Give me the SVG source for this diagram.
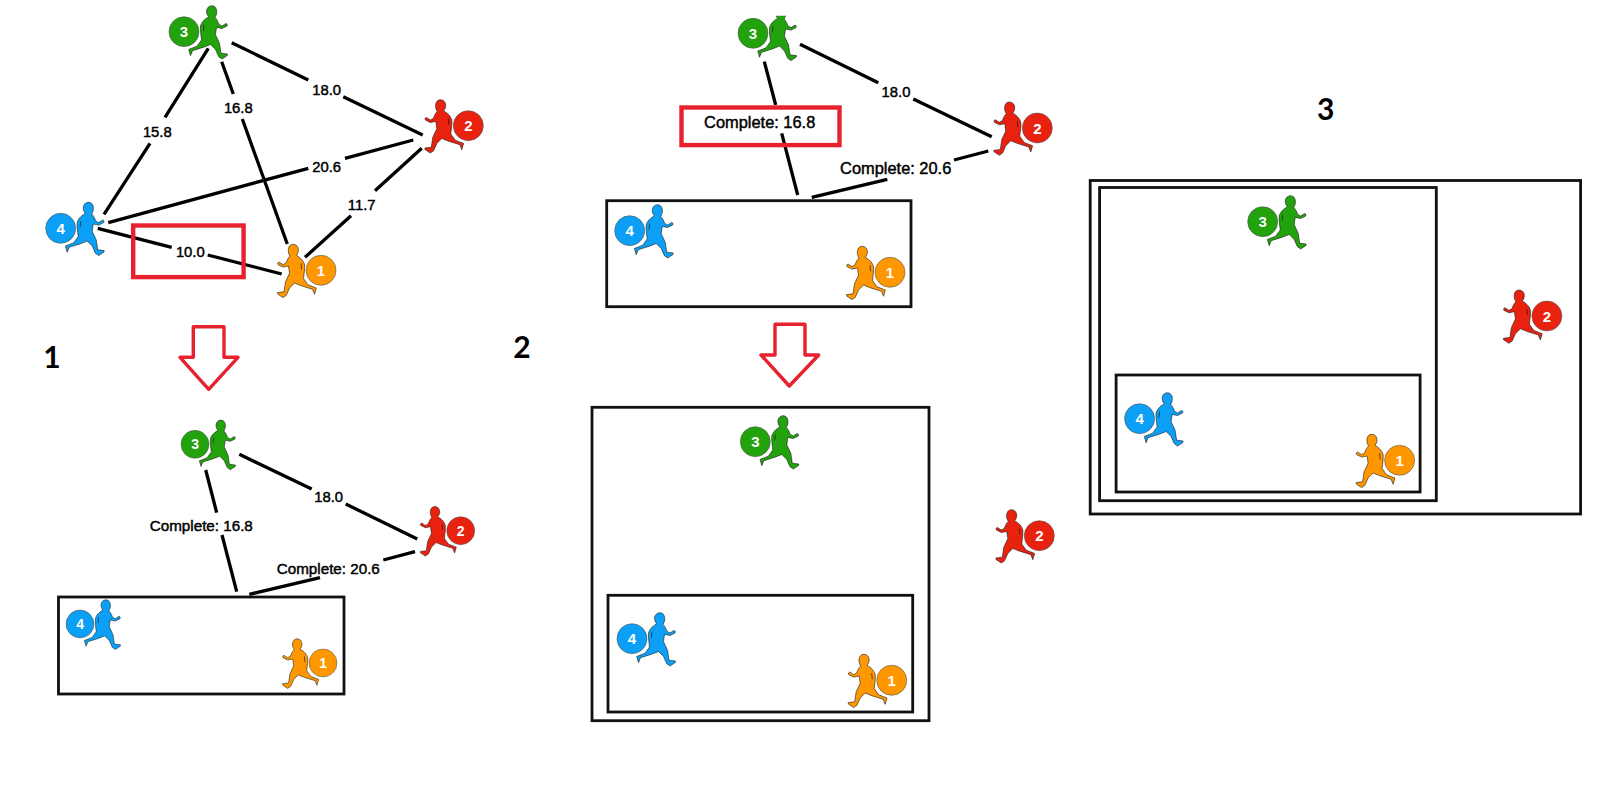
<svg xmlns="http://www.w3.org/2000/svg" xmlns:xlink="http://www.w3.org/1999/xlink" width="1598" height="802" viewBox="0 0 1598 802">
<style>
.bg{fill:#fff}
.edge{stroke:#000;stroke-width:3.3;fill:none}
.box{fill:none;stroke:#111;stroke-width:2.8}
.hl{fill:none;stroke:#e8212e;stroke-width:4.4}
.arrow{fill:#fff;stroke:#e8212e;stroke-width:3.4;stroke-linejoin:round}
.lbl{font-family:"Liberation Sans",Arial,sans-serif;fill:#000;stroke:#000;stroke-width:.45;text-anchor:middle;dominant-baseline:central;font-size:14.8px}
.c{font-size:15.2px}
.cb{font-size:16.4px}
.step{font-family:Lato,"Liberation Sans",sans-serif;font-weight:700;font-size:30px;fill:#000;text-anchor:middle}
.num{font-family:"Liberation Sans",Arial,sans-serif;font-weight:700;font-size:15px;fill:#fff;text-anchor:middle;dominant-baseline:central}
.run{stroke:#1a1a1a;stroke-width:.6;stroke-linejoin:round}
.mark{fill:none;stroke:#1a1a1a;stroke-width:.7}
.disc{stroke:#555;stroke-width:.6}
.n1 .run,.n1 .disc{fill:#ff9800}
.n2 .run,.n2 .disc{fill:#e9220f}
.n3 .run,.n3 .disc{fill:#22a20c}
.n4 .run,.n4 .disc{fill:#0ba0f5}
</style>
<defs>
<g id="runner">
<path d="M24.7,-15 C21.5,-18 21.5,-25.5 27.7,-26 C33.5,-26 33.8,-18 31,-14.3 C33,-12.5 34,-10 35,-7.3 L38,-5.7 L42,-8.3 L43.3,-7.3 L43,-5.7 L38,-3.2 L32.5,-4.3 L31.5,3 L35.5,11.5 L37,21.5 L43.5,22.3 L43.3,23.8 L38,27.3 L34.7,25 L31.5,17.7 L26.5,12.8 L19.7,15.5 L8.5,19 L6.5,24 L4.7,17.7 L13,14.5 L17.5,8.3 C17,3 16,-2 16.5,-5.7 C17.5,-9 19.5,-12 24.7,-15 Z"/>
<path class="mark" d="M20,-7 L19.4,-1"/>
</g>
<clipPath id="topclip"><rect x="700" y="15.7" width="120" height="60"/></clipPath>
</defs>
<rect class="bg" width="1598" height="802"/>
<g id="connectors">
<path class="edge" d="M208.3,48.3L165,117.3M150,143.3L104,214.3M221.7,61.7L233.3,94M242.3,119L287.3,244M231.7,42.7L308.3,80M343.3,96.7L422.7,135M108.3,222.7L308.3,168.3M345,158.3L413.3,140M305,257.3L351,215.7M375,190.7L421.7,148.3M97.7,228.3L171.7,247.3M207.7,255L281.7,274"/>
<path class="edge" d="M205.7,470L216.7,512.7M222,535L236.7,591.7M239.3,454.3L311.7,489M345.7,504L417.3,539M249.3,594.3L320,577.7M383.3,560L415,551.7"/>
<path class="edge" d="M764.3,61.7L775.7,105M781.7,133.3L797.7,195M800,44.3L878.3,82.7M913.3,99L991.7,136.7M811.7,197.3L887.3,179.3M954,160L988.3,151"/>
</g>
<g id="boxes">
<rect class="box" x="58.5" y="597" width="285.5" height="97"/>
<rect class="box" x="606.7" y="200.7" width="304.3" height="106"/>
<rect class="box" x="592" y="407.3" width="337" height="313.4"/>
<rect class="box" x="608" y="595.3" width="304.7" height="116.7"/>
<rect class="box" x="1090.2" y="180.5" width="490.4" height="333.5"/>
<rect class="box" x="1099.6" y="187.5" width="336.7" height="313.2"/>
<rect class="box" x="1116.1" y="375" width="304" height="117"/>
</g>
<g id="highlights">
<rect class="hl" x="133.2" y="225.5" width="110.4" height="51.6"/>
<rect class="hl" x="681.5" y="107.5" width="158" height="37.6"/>
<path class="arrow" d="M193.3,326.7H224V357.3H238L208.7,389.3L180,357.3H193.3Z"/>
<path class="arrow" d="M775,324.3H805V355H818.7L789.3,386L761,355H775Z"/>
</g>
<g id="edge-labels">
<text class="lbl" x="157.3" y="132.3">15.8</text>
<text class="lbl" x="238.3" y="107.7">16.8</text>
<text class="lbl" x="326.7" y="90">18.0</text>
<text class="lbl" x="326.7" y="166.7">20.6</text>
<text class="lbl" x="361.7" y="205">11.7</text>
<text class="lbl" x="190.3" y="252.3">10.0</text>
<text class="lbl c" x="201.3" y="525">Complete: 16.8</text>
<text class="lbl" x="328.7" y="497.3">18.0</text>
<text class="lbl c" x="328.3" y="568">Complete: 20.6</text>
<text class="lbl cb" x="759.7" y="121.7">Complete: 16.8</text>
<text class="lbl" x="896" y="91.7">18.0</text>
<text class="lbl cb" x="895.7" y="168.3">Complete: 20.6</text>
</g>
<g id="step-labels">
<text class="step" x="52" y="367.7">1</text>
<text class="step" x="522" y="358">2</text>
<text class="step" x="1325.6" y="120">3</text>
</g>
<g id="a3" class="n3" transform="translate(184,31.7)"><use class="run" href="#runner"/><circle class="disc" r="15"/><text class="num">3</text></g>
<g id="a4" class="n4" transform="translate(60.7,228.3)"><use class="run" href="#runner"/><circle class="disc" r="15"/><text class="num">4</text></g>
<g id="a1" class="n1" transform="translate(321,270.3)"><use class="run" href="#runner" transform="scale(-1,1)"/><circle class="disc" r="15"/><text class="num">1</text></g>
<g id="a2" class="n2" transform="translate(468.3,125.7)"><use class="run" href="#runner" transform="scale(-1,1)"/><circle class="disc" r="15"/><text class="num">2</text></g>
<g id="b3" class="n3" transform="translate(195,444.3) scale(.93)"><use class="run" href="#runner"/><circle class="disc" r="15"/><text class="num">3</text></g>
<g id="b4" class="n4" transform="translate(80,624) scale(.93)"><use class="run" href="#runner"/><circle class="disc" r="15"/><text class="num">4</text></g>
<g id="b1" class="n1" transform="translate(323,663) scale(.93)"><use class="run" href="#runner" transform="scale(-1,1)"/><circle class="disc" r="15"/><text class="num">1</text></g>
<g id="b2" class="n2" transform="translate(460.7,530.7) scale(.93)"><use class="run" href="#runner" transform="scale(-1,1)"/><circle class="disc" r="15"/><text class="num">2</text></g>
<g id="c3" class="n3" clip-path="url(#topclip)"><g transform="translate(753,33.3)"><use class="run" href="#runner"/><circle class="disc" r="15"/><text class="num">3</text></g></g>
<g id="c4" class="n4" transform="translate(629.7,230.7)"><use class="run" href="#runner"/><circle class="disc" r="15"/><text class="num">4</text></g>
<g id="c1" class="n1" transform="translate(890,272.3)"><use class="run" href="#runner" transform="scale(-1,1)"/><circle class="disc" r="15"/><text class="num">1</text></g>
<g id="c2" class="n2" transform="translate(1037.3,128)"><use class="run" href="#runner" transform="scale(-1,1)"/><circle class="disc" r="15"/><text class="num">2</text></g>
<g id="d3" class="n3" transform="translate(755.3,441.7)"><use class="run" href="#runner"/><circle class="disc" r="15"/><text class="num">3</text></g>
<g id="d4" class="n4" transform="translate(632,638.7)"><use class="run" href="#runner"/><circle class="disc" r="15"/><text class="num">4</text></g>
<g id="d1" class="n1" transform="translate(891.7,680.3)"><use class="run" href="#runner" transform="scale(-1,1)"/><circle class="disc" r="15"/><text class="num">1</text></g>
<g id="d2" class="n2" transform="translate(1039.3,535.7)"><use class="run" href="#runner" transform="scale(-1,1)"/><circle class="disc" r="15"/><text class="num">2</text></g>
<g id="e3" class="n3" transform="translate(1262.7,221.7)"><use class="run" href="#runner"/><circle class="disc" r="15"/><text class="num">3</text></g>
<g id="e4" class="n4" transform="translate(1139.6,418.7)"><use class="run" href="#runner"/><circle class="disc" r="15"/><text class="num">4</text></g>
<g id="e1" class="n1" transform="translate(1399.6,460.3)"><use class="run" href="#runner" transform="scale(-1,1)"/><circle class="disc" r="15"/><text class="num">1</text></g>
<g id="e2" class="n2" transform="translate(1546.9,316)"><use class="run" href="#runner" transform="scale(-1,1)"/><circle class="disc" r="15"/><text class="num">2</text></g>
</svg>
